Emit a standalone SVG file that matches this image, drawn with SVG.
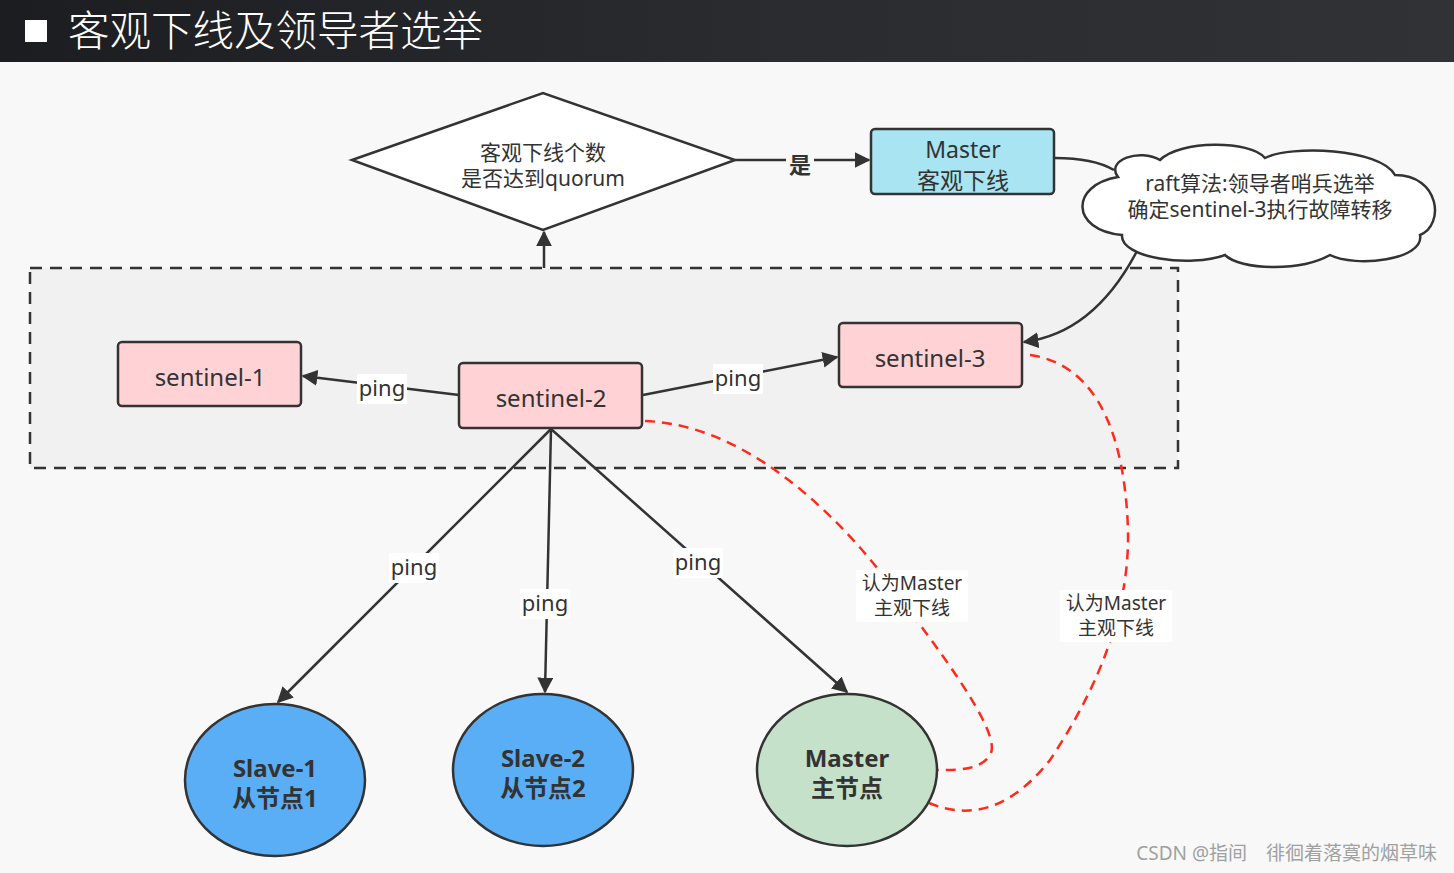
<svg xmlns="http://www.w3.org/2000/svg" width="1454" height="873" viewBox="0 0 1454 873">
<defs>
<linearGradient id="hdr" x1="0" y1="0" x2="1" y2="0">
<stop offset="0" stop-color="#1c1d20"/>
<stop offset="0.5" stop-color="#2a2b2f"/>
<stop offset="1" stop-color="#303236"/>
</linearGradient>
<marker id="arr" viewBox="0 0 10 10" refX="9" refY="5" markerWidth="16" markerHeight="16" markerUnits="userSpaceOnUse" orient="auto">
<path d="M0,0 L10,5 L0,10 Z" fill="#333"/>
</marker>
</defs>
<style>
text{font-family:"Noto Sans","Noto Sans CJK SC",sans-serif;fill:#333;text-anchor:middle}
.box{stroke:#333;stroke-width:2.5}
.sen{fill:#ffd3d5}
.t24{font-size:24px}
.t23{font-size:23px}
.lbl{font-size:22px}
.lbg{fill:#ffffff}
.ln{fill:none;stroke:#333;stroke-width:2.5}
.red{fill:none;stroke:#ff2a1a;stroke-width:2.5;stroke-dasharray:10 7}
.bold{font-weight:bold;font-size:24px}
.sub{font-size:19px}
</style>
<rect x="0" y="0" width="1454" height="873" fill="#f8f8f8"/>
<rect x="0" y="0" width="1454" height="62" fill="url(#hdr)"/>
<rect x="25" y="20" width="22" height="22" fill="#ffffff"/>
<text x="68" y="46" style="font-family:'Noto Sans CJK SC',sans-serif;font-size:41.5px;fill:#ffffff;text-anchor:start;font-weight:300">客观下线及领导者选举</text>

<g id="container">
<rect x="30" y="268" width="1148" height="200" fill="#f1f1f1" stroke="#333" stroke-width="2.5" stroke-dasharray="12 8"/>
</g>

<g id="connectors">
<path class="ln" d="M544,268 L544,232" marker-end="url(#arr)"/>
<path class="ln" d="M735,160 L869,160" marker-end="url(#arr)"/>
<rect x="786" y="148" width="28" height="28" fill="#f8f8f8"/>
<text x="800" y="173" style="font-size:22px;font-weight:bold">是</text>
<path class="ln" d="M1055,158 C1080,158 1100,162 1114,170"/>
<path class="ln" d="M1137,251 C1115,293 1080,335 1024,342" marker-end="url(#arr)"/>
<path class="ln" d="M459,395 L303,376" marker-end="url(#arr)"/>
<path class="ln" d="M643,395 L837,357" marker-end="url(#arr)"/>
<path class="ln" d="M551,429 L278,702" marker-end="url(#arr)"/>
<path class="ln" d="M551,429 L545,692" marker-end="url(#arr)"/>
<path class="ln" d="M551,429 L847,692" marker-end="url(#arr)"/>
<path class="red" d="M645,421 C760,425 860,540 905,605 C970,690 1000,740 990,755 C980,770 960,770 938,770"/>
<path class="red" d="M1030,355 C1100,365 1125,440 1128,530 C1130,620 1090,700 1050,760 C1010,810 970,820 929,803"/>
<rect x="357" y="374" width="50" height="30" class="lbg"/>
<text x="382" y="396" class="lbl">ping</text>
<rect x="713" y="364" width="50" height="30" class="lbg"/>
<text x="738" y="386" class="lbl">ping</text>
<rect x="389" y="553" width="50" height="30" class="lbg"/>
<text x="414" y="575" class="lbl">ping</text>
<rect x="520" y="589" width="50" height="30" class="lbg"/>
<text x="545" y="611" class="lbl">ping</text>
<rect x="673" y="548" width="50" height="30" class="lbg"/>
<text x="698" y="570" class="lbl">ping</text>
<rect x="856" y="570" width="112" height="52" class="lbg"/>
<text x="912" y="590" class="sub">认为Master</text>
<text x="912" y="615" class="sub">主观下线</text>
<rect x="1060" y="590" width="112" height="52" class="lbg"/>
<text x="1116" y="610" class="sub">认为Master</text>
<text x="1116" y="635" class="sub">主观下线</text>
</g>

<g id="decision">
<polygon points="352,160 543,93 735,160 543,230" fill="#ffffff" stroke="#333" stroke-width="2.5"/>
<text x="543" y="160" style="font-size:21px">客观下线个数</text>
<text x="543" y="186" style="font-size:21px">是否达到quorum</text>
</g>

<g id="master-odown">
<rect x="871" y="129" width="183" height="65" rx="4" fill="#a8e4f2" class="box"/>
<text x="963" y="158" class="t23">Master</text>
<text x="963" y="189" class="t23">客观下线</text>
</g>

<g id="cloud">
<path d="M1118,177 C1105,160 1140,148 1160,160 C1180,140 1250,140 1265,158 C1290,145 1380,148 1395,175 C1440,175 1445,225 1420,235 C1425,260 1355,268 1330,255 C1300,272 1240,270 1225,255 C1190,268 1120,258 1122,235 C1070,230 1070,185 1118,177 Z" fill="#ffffff" stroke="#333" stroke-width="2.5"/>
<text x="1260" y="191" style="font-size:21px">raft算法:领导者哨兵选举</text>
<text x="1260" y="217" style="font-size:21px">确定sentinel-3执行故障转移</text>
</g>

<g id="sentinel-1">
<rect x="118" y="342" width="183" height="64" rx="4" class="box sen"/>
<text x="210" y="386" class="t24">sentinel-1</text>
</g>
<g id="sentinel-2">
<rect x="459" y="363" width="183" height="65" rx="4" class="box sen"/>
<text x="551" y="407" class="t24">sentinel-2</text>
</g>
<g id="sentinel-3">
<rect x="839" y="323" width="183" height="64" rx="4" class="box sen"/>
<text x="930" y="367" class="t24">sentinel-3</text>
</g>

<g id="slave-1">
<ellipse cx="275" cy="780" rx="90" ry="76" fill="#5aaef6" class="box"/>
<text x="275" y="777" class="bold">Slave-1</text>
<text x="275" y="807" class="bold">从节点1</text>
</g>
<g id="slave-2">
<ellipse cx="543" cy="770" rx="90" ry="76" fill="#5aaef6" class="box"/>
<text x="543" y="767" class="bold">Slave-2</text>
<text x="543" y="797" class="bold">从节点2</text>
</g>
<g id="master">
<ellipse cx="847" cy="770" rx="90" ry="76" fill="#c5e1c9" class="box"/>
<text x="847" y="767" class="bold">Master</text>
<text x="847" y="797" class="bold">主节点</text>
</g>

<text x="1437" y="860" style="font-size:19px;fill:#a0a0a0;text-anchor:end">CSDN @指间　徘徊着落寞的烟草味</text>
</svg>
